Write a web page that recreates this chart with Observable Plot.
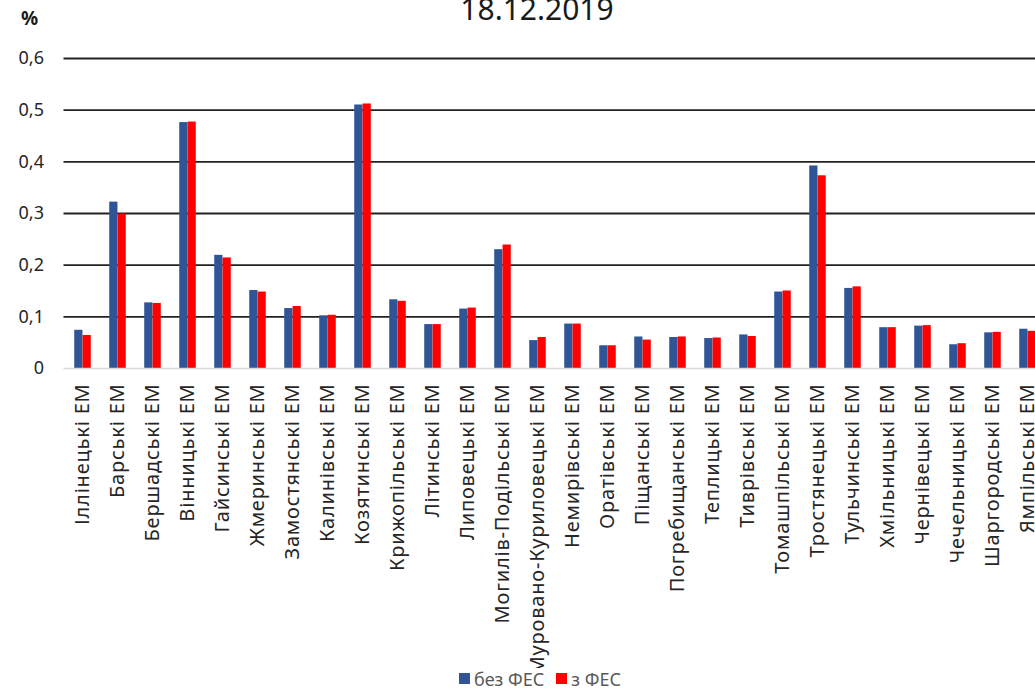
<!DOCTYPE html>
<html>
<head>
<meta charset="utf-8">
<script src="https://cdn.jsdelivr.net/npm/d3@7"></script>
<script src="https://cdn.jsdelivr.net/npm/@observablehq/plot@0.6"></script>
<style>
  html, body { margin: 0; padding: 0; background: #fff; overflow: hidden; }
  #chart { position: relative; width: 1035px; height: 688px; font-family: "Noto Sans", sans-serif; overflow: hidden; }
  #plot { position: absolute; left: 0; top: 0; }
  #plot svg g[aria-label="text"] { letter-spacing: 0.8px; }
  #title { position: absolute; left: 0; width: 1074px; top: -6px; text-align: center; font-size: 30px; line-height: 1; color: #1a1a1a; }
  #unit { position: absolute; left: 21px; top: 9px; font-size: 19px; font-weight: bold; line-height: 1; color: #1a1a1a; }
  #legend { position: absolute; left: 0; width: 1080px; top: 668px; text-align: center; font-size: 18px; line-height: 1; color: #595959; }
  #legend span.item { display: inline-flex; align-items: center; margin: 0 6px; }
  #legend span.sw { display: inline-block; width: 11px; height: 11px; margin-right: 4px; }
</style>
</head>
<body>
<div id="chart">
  <div id="plot"></div>
  <div id="title">18.12.2019</div>
  <div id="unit">%</div>
  <div id="legend"></div>
</div>
<script>
// Districts (електромережі) of the Vinnytsia region
const districts = [
  "Іллінецькі ЕМ", "Барські ЕМ", "Бершадські ЕМ", "Вінницькі ЕМ", "Гайсинські ЕМ",
  "Жмеринські ЕМ", "Замостянські ЕМ", "Калинівські ЕМ", "Козятинські ЕМ", "Крижопільські ЕМ",
  "Літинські ЕМ", "Липовецькі ЕМ", "Могилів-Подільські ЕМ", "Муровано-Куриловецькі ЕМ", "Немирівські ЕМ",
  "Оратівські ЕМ", "Піщанські ЕМ", "Погребищанські ЕМ", "Теплицькі ЕМ", "Тиврівські ЕМ",
  "Томашпільські ЕМ", "Тростянецькі ЕМ", "Тульчинські ЕМ", "Хмільницькі ЕМ", "Чернівецькі ЕМ",
  "Чечельницькі ЕМ", "Шаргородські ЕМ", "Ямпільські ЕМ"
];

// Values, %
const withoutFES = [
  0.074, 0.322, 0.127, 0.476, 0.219, 0.151, 0.116, 0.102, 0.510, 0.133,
  0.085, 0.115, 0.230, 0.054, 0.086, 0.044, 0.061, 0.060, 0.058, 0.065,
  0.148, 0.392, 0.155, 0.079, 0.082, 0.046, 0.069, 0.076
];
const withFES = [
  0.064, 0.299, 0.126, 0.477, 0.214, 0.148, 0.120, 0.103, 0.512, 0.130,
  0.085, 0.117, 0.239, 0.060, 0.086, 0.044, 0.055, 0.061, 0.059, 0.062,
  0.150, 0.373, 0.158, 0.079, 0.083, 0.048, 0.070, 0.072
];

const seriesNames = ["без ФЕС", "з ФЕС"];
const seriesColors = ["#2f5597", "#ff0000"];
const yTicks = [0, 0.1, 0.2, 0.3, 0.4, 0.5, 0.6];

const rows = districts.flatMap((d, i) => [
  {district: d, series: seriesNames[0], value: withoutFES[i]},
  {district: d, series: seriesNames[1], value: withFES[i]}
]);

// band geometry: each district band holds two adjacent bars
const xRange = [63.5, 1046];
const step = (xRange[1] - xRange[0]) / districts.length;
const barW = step * 0.237;
const half = step / 2;

const fmt = v => v === 0 ? "0" : v.toFixed(1).replace(".", ",");

const chart = Plot.plot({
  width: 1035,
  height: 668,
  marginTop: 58,
  marginBottom: 300,
  marginLeft: 63.5,
  marginRight: 0,
  style: {fontFamily: "Noto Sans, sans-serif", fontSize: "18px", color: "#262626", background: "transparent"},
  x: {domain: districts, range: xRange, padding: 0, label: null, axis: null},
  y: {domain: [0, 0.6], label: null},
  color: {domain: seriesNames, range: seriesColors},
  marks: [
    Plot.gridY(yTicks.filter(t => t > 0), {stroke: "#222", strokeOpacity: 1, strokeWidth: 1.8}),
    Plot.barY(rows.filter(r => r.series === seriesNames[0]), {
      x: "district", y: "value", fill: "series",
      insetLeft: half - barW, insetRight: half
    }),
    Plot.barY(rows.filter(r => r.series === seriesNames[1]), {
      x: "district", y: "value", fill: "series",
      insetLeft: half, insetRight: half - barW
    }),
    Plot.ruleY([0], {stroke: "#d9d9d9", strokeWidth: 1.5}),
    Plot.axisY({ticks: yTicks, tickFormat: fmt, tickSize: 0, tickPadding: 20, fontSize: 18, label: null}),
    // district names, rotated and hanging below the baseline
    Plot.text(districts, {
      x: d => d, frameAnchor: "bottom", rotate: -90,
      textAnchor: "end", lineAnchor: "middle", dy: 15,
      fontSize: 20, fill: "#262626"
    })
  ]
});
document.getElementById("plot").appendChild(chart);

// legend below the plot
const legend = d3.select("#legend");
seriesNames.forEach((name, i) => {
  const item = legend.append("span").attr("class", "item");
  item.append("span").attr("class", "sw").style("background", seriesColors[i]);
  item.append("span").text(name);
});
</script>
</body>
</html>
